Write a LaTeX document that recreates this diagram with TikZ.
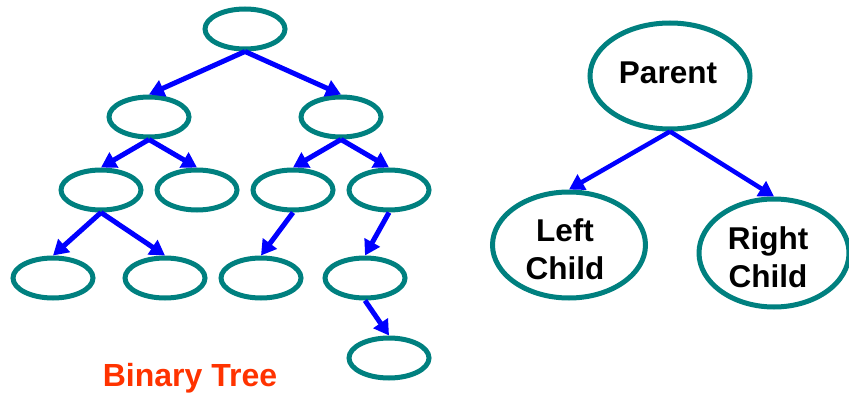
\documentclass[tikz,border=0pt]{standalone}
\usepackage{fontspec}
\setmainfont{Liberation Sans}
\usetikzlibrary{arrows.meta,shapes.geometric}
\definecolor{ringteal}{HTML}{00807F}
\definecolor{edgeblue}{HTML}{0000FF}
\definecolor{titlered}{HTML}{FF3300}
\begin{document}
\begin{tikzpicture}[x=1pt,y=-1pt,
  tnode/.style={ellipse,draw=ringteal,line width=5pt,minimum width=80pt,minimum height=40pt,inner sep=0pt},
  bignode/.style={ellipse,draw=ringteal,line width=5pt,inner sep=0pt},
  caption/.style={align=center,font=\fontsize{31.5}{38}\selectfont\bfseries},
  link/.style={draw=edgeblue,line width=5pt,-{Triangle[length=15pt,width=17pt]}},
  thinlink/.style={draw=edgeblue,line width=4.5pt,-{Triangle[length=15pt,width=17pt]}}]
\useasboundingbox (0,0) rectangle (849,396);

% binary tree
\node[tnode] (r)   at (245,29)  {};
\node[tnode] (a)   at (149,117) {};
\node[tnode] (b)   at (341,117) {};
\node[tnode] (aa)  at (101,190) {};
\node[tnode] (ab)  at (197,190) {};
\node[tnode] (ba)  at (293,190) {};
\node[tnode] (bb)  at (389,190) {};
\node[tnode] (aaa) at (53,278)  {};
\node[tnode] (aab) at (165,278) {};
\node[tnode] (baa) at (261,278) {};
\node[tnode] (bba) at (365,278) {};
\node[tnode] (bbab) at (389,358) {};

\draw[link] (r.south) -- (a.north);
\draw[link] (r.south) -- (b.north);
\draw[link] (a.south) -- (aa.north);
\draw[link] (a.south) -- (ab.north);
\draw[link] (b.south) -- (ba.north);
\draw[link] (b.south) -- (bb.north);
\draw[link] (aa.south) -- (aaa.north);
\draw[link] (aa.south) -- (aab.north);
\draw[link] (ba.south) -- (baa.north);
\draw[link] (bb.south) -- (bba.north);
\draw[link] (bba.south) -- (bbab.north);

\node[text=titlered,font=\fontsize{32}{36}\selectfont\bfseries] (title) at (190,378) {Binary Tree};

% parent and its two children
\node[bignode,minimum width=160pt,minimum height=106pt] (p) at (670,76) {};
\node[bignode,minimum width=153pt,minimum height=106pt] (lc) at (569,245) {};
\node[bignode,minimum width=150pt,minimum height=108pt] (rc) at (774,253) {};
\node[caption] (pt) at (668,73) {Parent};
\node[caption] (lct) at (565,249) {Left\\Child};
\node[caption] (rct) at (768,257) {Right\\Child};

\draw[thinlink] (p.south) -- (lc.north);
\draw[thinlink] (p.south) -- (rc.north);
\end{tikzpicture}
\end{document}
